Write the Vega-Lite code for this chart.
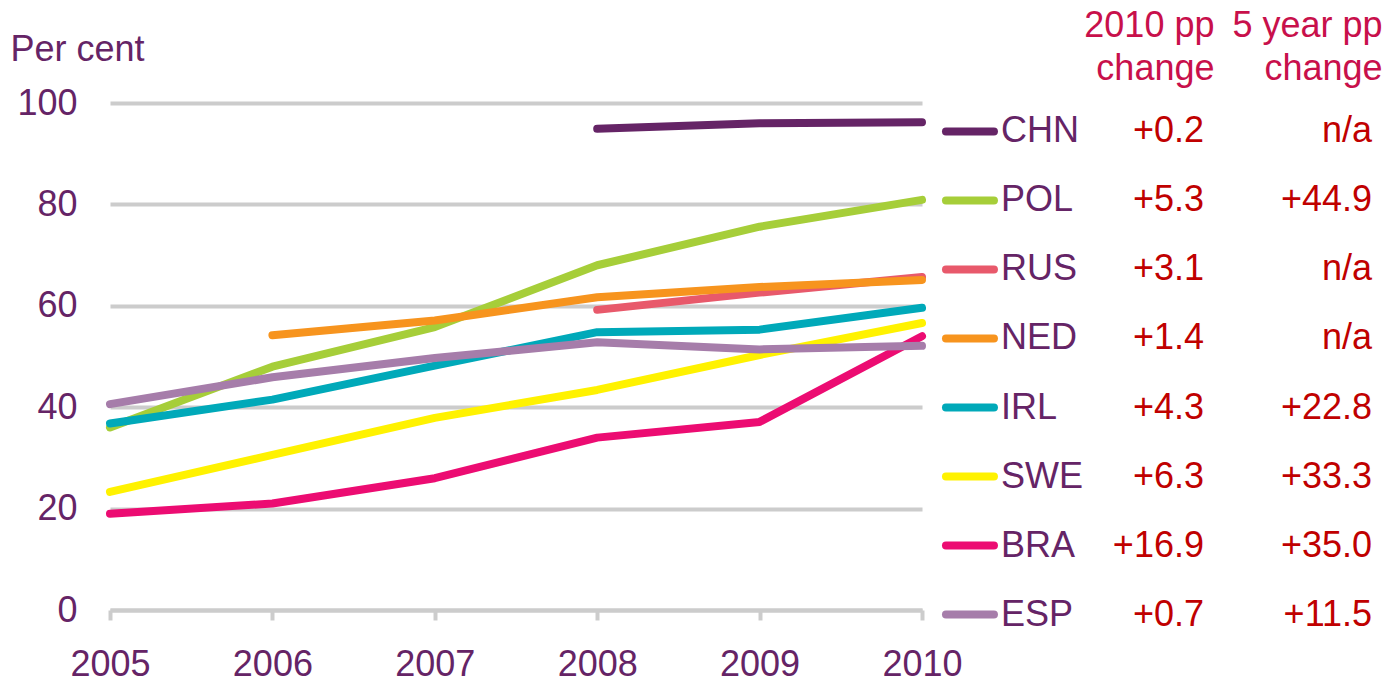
{
  "$schema": "https://vega.github.io/schema/vega-lite/v6.json",
  "padding": {"left": 10, "top": 7, "right": 0, "bottom": 0},
  "bounds": "flush",
  "spacing": 266,
  "config": {"view": {"stroke": null}, "font": "Liberation Sans"},
  "datasets": {
    "series": [
      {"country": "CHN", "year": 2008, "value": 94.9},
      {"country": "CHN", "year": 2009, "value": 96.0},
      {"country": "CHN", "year": 2010, "value": 96.2},
      {"country": "POL", "year": 2005, "value": 36.0},
      {"country": "POL", "year": 2006, "value": 48.0},
      {"country": "POL", "year": 2007, "value": 55.8},
      {"country": "POL", "year": 2008, "value": 68.0},
      {"country": "POL", "year": 2009, "value": 75.6},
      {"country": "POL", "year": 2010, "value": 80.9},
      {"country": "RUS", "year": 2008, "value": 59.2},
      {"country": "RUS", "year": 2009, "value": 62.6},
      {"country": "RUS", "year": 2010, "value": 65.7},
      {"country": "NED", "year": 2006, "value": 54.2},
      {"country": "NED", "year": 2007, "value": 57.1},
      {"country": "NED", "year": 2008, "value": 61.7},
      {"country": "NED", "year": 2009, "value": 63.7},
      {"country": "NED", "year": 2010, "value": 65.1},
      {"country": "IRL", "year": 2005, "value": 36.8},
      {"country": "IRL", "year": 2006, "value": 41.5},
      {"country": "IRL", "year": 2007, "value": 48.2},
      {"country": "IRL", "year": 2008, "value": 54.8},
      {"country": "IRL", "year": 2009, "value": 55.3},
      {"country": "IRL", "year": 2010, "value": 59.6},
      {"country": "SWE", "year": 2005, "value": 23.3},
      {"country": "SWE", "year": 2006, "value": 30.6},
      {"country": "SWE", "year": 2007, "value": 37.9},
      {"country": "SWE", "year": 2008, "value": 43.4},
      {"country": "SWE", "year": 2009, "value": 50.3},
      {"country": "SWE", "year": 2010, "value": 56.6},
      {"country": "BRA", "year": 2005, "value": 19.0},
      {"country": "BRA", "year": 2006, "value": 21.0},
      {"country": "BRA", "year": 2007, "value": 26.0},
      {"country": "BRA", "year": 2008, "value": 34.0},
      {"country": "BRA", "year": 2009, "value": 37.1},
      {"country": "BRA", "year": 2010, "value": 54.0},
      {"country": "ESP", "year": 2005, "value": 40.6},
      {"country": "ESP", "year": 2006, "value": 45.9},
      {"country": "ESP", "year": 2007, "value": 49.7},
      {"country": "ESP", "year": 2008, "value": 52.8},
      {"country": "ESP", "year": 2009, "value": 51.4},
      {"country": "ESP", "year": 2010, "value": 52.1}
    ],
    "table": [
      {"country": "CHN", "chg2010": "+0.2", "chg5yr": "n/a"},
      {"country": "POL", "chg2010": "+5.3", "chg5yr": "+44.9"},
      {"country": "RUS", "chg2010": "+3.1", "chg5yr": "n/a"},
      {"country": "NED", "chg2010": "+1.4", "chg5yr": "n/a"},
      {"country": "IRL", "chg2010": "+4.3", "chg5yr": "+22.8"},
      {"country": "SWE", "chg2010": "+6.3", "chg5yr": "+33.3"},
      {"country": "BRA", "chg2010": "+16.9", "chg5yr": "+35.0"},
      {"country": "ESP", "chg2010": "+0.7", "chg5yr": "+11.5"}
    ]
  },
  "hconcat": [
    {
      "width": 812,
      "height": 507,
      "data": {"name": "series"},
      "mark": {"type": "line", "strokeWidth": 8, "strokeCap": "round", "strokeJoin": "round"},
      "encoding": {
        "x": {
          "field": "year", "type": "quantitative",
          "scale": {"domain": [2005, 2010], "nice": false, "zero": false},
          "axis": {
            "values": [2005, 2006, 2007, 2008, 2009, 2010], "format": "d", "title": null,
            "grid": false, "domain": true, "domainColor": "#cccccc", "domainWidth": 4,
            "ticks": true, "tickColor": "#cccccc", "tickWidth": 4, "tickSize": 10,
            "labelFontSize": 36, "labelColor": "#652466", "labelPadding": 27,
            "labelFlush": false, "labelOverlap": false
          }
        },
        "y": {
          "field": "value", "type": "quantitative",
          "scale": {"domain": [0, 100], "nice": false},
          "axis": {
            "values": [0, 20, 40, 60, 80, 100],
            "title": "Per cent", "titleAngle": 0, "titleX": -100, "titleY": -43,
            "titleAlign": "left", "titleBaseline": "alphabetic", "titleFontSize": 36,
            "titleFontWeight": "normal", "titleColor": "#652466",
            "grid": true, "gridColor": "#cccccc", "gridWidth": 4,
            "domain": false, "ticks": false,
            "labelFontSize": 36, "labelColor": "#652466", "labelPadding": 33, "labelOverlap": false
          }
        },
        "color": {
          "field": "country", "type": "nominal",
          "scale": {
            "domain": ["CHN", "POL", "RUS", "NED", "IRL", "SWE", "BRA", "ESP"],
            "range": ["#652466", "#a6ce39", "#e8596b", "#f7941e", "#00a9b9", "#fff200", "#ec0c72", "#a67daa"]
          },
          "legend": null
        }
      }
    },
    {
      "width": 200,
      "height": 540,
      "data": {"name": "table"},
      "encoding": {
        "y": {
          "field": "country", "type": "nominal",
          "scale": {"type": "point", "domain": ["CHN", "POL", "RUS", "NED", "IRL", "SWE", "BRA", "ESP"], "padding": 0.413},
          "axis": null
        }
      },
      "layer": [
        {
          "mark": {"type": "point", "shape": "stroke", "size": 2304, "strokeWidth": 8, "strokeCap": "round", "filled": false, "opacity": 1, "xOffset": -234},
          "encoding": {
            "x": {
              "datum": "2010 pp change", "type": "nominal",
              "scale": {"type": "point", "domain": ["2010 pp change", "5 year pp change"], "padding": 0.095},
              "axis": {
                "orient": "top", "title": null, "domain": false, "ticks": false, "grid": false,
                "labelFontSize": 36, "labelColor": "#c8104b", "labelAlign": "right", "labelOffset": 10,
                "labelPadding": 67, "labelBaseline": "alphabetic", "labelLineHeight": 43, "labelLimit": 0,
                "labelAngle": 0,
                "labelExpr": "datum.value == '2010 pp change' ? ['2010 pp', 'change'] : ['5 year pp', 'change']"
              }
            },
            "color": {"field": "country", "type": "nominal", "legend": null}
          }
        },
        {
          "mark": {"type": "text", "align": "left", "baseline": "middle", "dx": -203, "fontSize": 36, "color": "#652466"},
          "encoding": {"x": {"datum": "2010 pp change", "type": "nominal"}, "text": {"field": "country"}}
        },
        {
          "mark": {"type": "text", "align": "right", "baseline": "middle", "fontSize": 36, "color": "#c00000"},
          "encoding": {"x": {"datum": "2010 pp change", "type": "nominal"}, "text": {"field": "chg2010"}}
        },
        {
          "mark": {"type": "text", "align": "right", "baseline": "middle", "fontSize": 36, "color": "#c00000"},
          "encoding": {"x": {"datum": "5 year pp change", "type": "nominal"}, "text": {"field": "chg5yr"}}
        }
      ]
    }
  ]
}
